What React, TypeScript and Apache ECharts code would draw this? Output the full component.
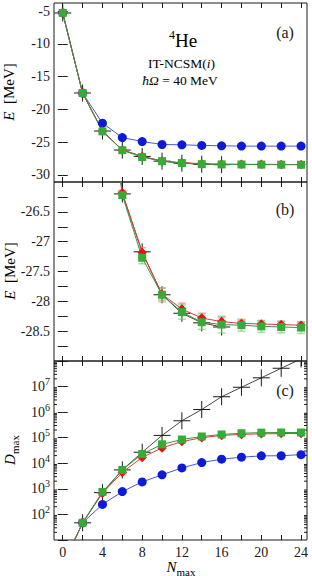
import React, { useEffect, useRef } from "react";
import * as echarts from "echarts";

const X = [0, 2, 4, 6, 8, 10, 12, 14, 16, 18, 20, 22, 24];
const X_TICKS = [0, 2, 4, 6, 8, 10, 12, 14, 16, 18, 20, 22, 24];
const X_LABELS = [0, 4, 8, 12, 16, 20, 24];
const Y_TICKS_A = [-30, -25, -20, -15, -10, -5];
const Y_TICKS_B = [-28.75, -28.5, -28.25, -28, -27.75, -27.5, -27.25, -27, -26.75, -26.5, -26.25];
const Y_LABELS_B = [-28.5, -28, -27.5, -27, -26.5];

// energies (MeV)
const E_CROSS = [-5.3, -17.5, -23.3, -26.2, -27.17, -27.89, -28.2, -28.36, -28.43];
const E_BLUE = [-5.3, -17.5, -22.1, -24.3, -24.9, -25.35, -25.4, -25.5, -25.55, -25.6, -25.6, -25.6, -25.6];
const E_RED = [-5.3, -17.5, -23.3, -26.18, -27.18, -27.88, -28.13, -28.28, -28.34, -28.37, -28.38, -28.39, -28.4];
const E_GREEN = [-5.3, -17.5, -23.35, -26.22, -27.27, -27.89, -28.18, -28.35, -28.39, -28.4, -28.42, -28.43, -28.44];
const ERR_RED = [0, 0, 0, 0.04, 0.08, 0.1, 0.1, 0.08, 0.07, 0.05, 0.05, 0.05, 0.05];
const ERR_GREEN = [0, 0, 0, 0.05, 0.1, 0.12, 0.12, 0.12, 0.14, 0.1, 0.1, 0.1, 0.1];

// dimensions
const D_CROSS = [1, 47, 710, 5500, 27000, 123000, 460000, 1270000, 4000000, 9400000, 22000000, 52000000, 120000000];
const D_BLUE = [1, 47, 247, 780, 1870, 3550, 6600, 10700, 14500, 17300, 19500, 19700, 21800];
const D_RED = [1, 47, 680, 4400, 17000, 40000, 71000, 100000, 123000, 135000, 142000, 145000, 147000];
const D_GREEN = [1, 47, 760, 5500, 23000, 55000, 85000, 112000, 134000, 150000, 158000, 160000, 160000];

const MINOR_LOG: number[] = [];
for (let n = 1; n <= 7; n++) for (let k = 2; k <= 9; k++) MINOR_LOG.push(k * Math.pow(10, n));

const FONT = "'Liberation Serif', serif";
const INK = "#1a1a1a";
const BLUE = "#0d1ad6";
const BLUE_LINE = "#4a55e8";
const RED = "#e01515";
const RED_LINE = "#e03a3a";
const GREEN = "#36ab36";
const GREEN_LINE = "#3c963c";

const GRIDS = [
  { left: 54, top: 3, width: 253, height: 179 },
  { left: 54, top: 182, width: 253, height: 179 },
  { left: 54, top: 361, width: 253, height: 179 },
];

const pairs = (ys: number[]) => ys.map((y, i) => [X[i], y]);

function crossItem(params: any, api: any) {
  const p = api.coord([api.value(0), api.value(1)]);
  const h = 8.5;
  return {
    type: "group",
    children: [
      { type: "line", shape: { x1: p[0] - h, y1: p[1], x2: p[0] + h, y2: p[1] }, style: { stroke: INK, lineWidth: 1 } },
      { type: "line", shape: { x1: p[0], y1: p[1] - h, x2: p[0], y2: p[1] + h }, style: { stroke: INK, lineWidth: 1 } },
    ],
  };
}

function errItem(color: string) {
  return (params: any, api: any) => {
    const x = api.value(0), y = api.value(1), e = api.value(2);
    const t = api.coord([x, y + e]);
    const b = api.coord([x, y - e]);
    const c = 4;
    const st = { stroke: color, lineWidth: 1.5 };
    return {
      type: "group",
      children: [
        { type: "line", shape: { x1: t[0], y1: t[1], x2: b[0], y2: b[1] }, style: st },
        { type: "line", shape: { x1: t[0] - c, y1: t[1], x2: t[0] + c, y2: t[1] }, style: st },
        { type: "line", shape: { x1: b[0] - c, y1: b[1], x2: b[0] + c, y2: b[1] }, style: st },
      ],
    };
  };
}

function minorLogItem(params: any, api: any) {
  const cs = params.coordSys;
  const p = api.coord([api.value(0), api.value(1)]);
  const L = 3;
  const st = { stroke: INK, lineWidth: 1 };
  return {
    type: "group",
    children: [
      { type: "line", shape: { x1: cs.x, y1: p[1], x2: cs.x + L, y2: p[1] }, style: st },
      { type: "line", shape: { x1: cs.x + cs.width - L, y1: p[1], x2: cs.x + cs.width, y2: p[1] }, style: st },
    ],
  };
}

const tickStyle = { inside: true, length: 5, lineStyle: { color: INK, width: 1 } };
const labelBase = { fontFamily: FONT, fontSize: 14, color: INK };

function buildOption() {
  const xAxis: any[] = [];
  const yAxis: any[] = [];
  for (let g = 0; g < 3; g++) {
    for (const pos of ["bottom", "top"]) {
      xAxis.push({
        type: "value",
        gridIndex: g,
        position: pos,
        min: -0.88,
        max: 24.6,
        axisLine: { show: false },
        splitLine: { show: false },
        axisTick: { ...tickStyle, customValues: X_TICKS },
        axisLabel: {
          ...labelBase,
          show: g === 2 && pos === "bottom",
          customValues: X_LABELS,
          margin: 5,
        },
      });
    }
  }
  for (const pos of ["left", "right"]) {
    yAxis.push({
      type: "value",
      gridIndex: 0,
      position: pos,
      min: -31.07,
      max: -3.78,
      axisLine: { show: false },
      splitLine: { show: false },
      axisTick: { ...tickStyle, customValues: Y_TICKS_A },
      axisLabel: { ...labelBase, show: pos === "left", customValues: Y_TICKS_A, margin: 4 },
    });
  }
  for (const pos of ["left", "right"]) {
    yAxis.push({
      type: "value",
      gridIndex: 1,
      position: pos,
      min: -29,
      max: -26,
      axisLine: { show: false },
      splitLine: { show: false },
      axisTick: { ...tickStyle, customValues: Y_TICKS_B },
      axisLabel: { ...labelBase, show: pos === "left", customValues: Y_LABELS_B, margin: 4 },
    });
  }
  for (const pos of ["left", "right"]) {
    yAxis.push({
      type: "log",
      logBase: 10,
      gridIndex: 2,
      position: pos,
      min: 10,
      max: 1e8,
      splitNumber: 7,
      axisLine: { show: false },
      splitLine: { show: false },
      axisTick: { ...tickStyle },
      axisLabel: {
        show: pos === "left",
        margin: 4,
        formatter: (v: number) => {
          const e = Math.round(Math.log10(v));
          if (e <= 1 || e >= 8) return "";
          return "{b|10}{s|" + e + "}";
        },
        rich: {
          b: { fontFamily: FONT, fontSize: 14, color: INK, lineHeight: 20, verticalAlign: "middle" },
          s: { fontFamily: FONT, fontSize: 10, color: INK, lineHeight: 12, verticalAlign: "top" },
        },
      },
    });
  }

  const series: any[] = [];
  const lineS = (g: number, data: any[], color: string, lineColor: string, symbol: string, size: number) => ({
    type: "line",
    xAxisIndex: 2 * g,
    yAxisIndex: 2 * g,
    data,
    symbol,
    symbolSize: size,
    clip: true,
    lineStyle: { color: lineColor, width: 1 },
    itemStyle: { color },
  });
  const crossS = (g: number, data: any[]) => [
    { type: "line", xAxisIndex: 2 * g, yAxisIndex: 2 * g, data, showSymbol: false, symbol: "none", clip: true, lineStyle: { color: INK, width: 0.8 } },
    { type: "custom", xAxisIndex: 2 * g, yAxisIndex: 2 * g, data, renderItem: crossItem, clip: true, encode: { x: 0, y: 1 } },
  ];
  const errS = (g: number, ys: number[], errs: number[], color: string) => ({
    type: "custom",
    xAxisIndex: 2 * g,
    yAxisIndex: 2 * g,
    data: ys.map((y, i) => [X[i], y, errs[i]]),
    renderItem: errItem(color),
    clip: true,
    encode: { x: 0, y: 1 },
  });

  // panel (a)
  series.push(...crossS(0, pairs(E_CROSS)));
  series.push(lineS(0, pairs(E_BLUE), BLUE, BLUE_LINE, "circle", 9));
  series.push(lineS(0, pairs(E_RED), RED, RED_LINE, "diamond", 9.5));
  series.push(lineS(0, pairs(E_GREEN), GREEN, GREEN_LINE, "rect", 8));
  // panel (b)
  series.push(...crossS(1, pairs(E_CROSS)));
  series.push(lineS(1, pairs(E_BLUE), BLUE, BLUE_LINE, "circle", 9));
  series.push(errS(1, E_RED, ERR_RED, "rgba(235,110,110,0.6)"));
  series.push(lineS(1, pairs(E_RED), RED, RED_LINE, "diamond", 9.5));
  series.push(errS(1, E_GREEN, ERR_GREEN, "rgba(110,200,110,0.6)"));
  series.push(lineS(1, pairs(E_GREEN), GREEN, GREEN_LINE, "rect", 8));
  // panel (c)
  series.push({
    type: "custom",
    xAxisIndex: 4,
    yAxisIndex: 4,
    data: MINOR_LOG.map((v) => [0, v]),
    renderItem: minorLogItem,
    encode: { x: 0, y: 1 },
    silent: true,
  });
  series.push(...crossS(2, pairs(D_CROSS)));
  series.push(lineS(2, pairs(D_BLUE), BLUE, BLUE_LINE, "circle", 9));
  series.push(lineS(2, pairs(D_RED), RED, RED_LINE, "diamond", 9.5));
  series.push(lineS(2, pairs(D_GREEN), GREEN, GREEN_LINE, "rect", 8));

  const rm = { fontFamily: FONT, fontSize: 13.5, color: INK };
  const it = { fontFamily: FONT, fontSize: 13.5, color: INK, fontStyle: "italic" };
  const nameRich = {
    i: { fontFamily: FONT, fontSize: 15, color: INK, fontStyle: "italic", lineHeight: 20, verticalAlign: "middle" },
    r: { fontFamily: FONT, fontSize: 15, color: INK, lineHeight: 20, verticalAlign: "middle" },
    sub: { fontFamily: FONT, fontSize: 11, color: INK, lineHeight: 11, verticalAlign: "bottom" },
  };
  const txt = (x: number, y: number, text: string, rich: any, rotation = 0) => ({
    type: "text",
    x,
    y,
    rotation,
    style: { text, rich, align: "center", verticalAlign: "middle" },
  });
  const plain = (x: number, y: number, text: string, size: number) => ({
    type: "text",
    x,
    y,
    style: { text, fontFamily: FONT, fontSize: size, fill: INK, align: "center", verticalAlign: "middle" },
  });

  const graphic = [
    txt(183, 40, "{s|4}{m|He}", {
      s: { fontFamily: FONT, fontSize: 12, color: INK, lineHeight: 12, verticalAlign: "top" },
      m: { fontFamily: FONT, fontSize: 19, color: INK, lineHeight: 22, verticalAlign: "middle" },
    }),
    txt(181.5, 63, "{r|IT-NCSM(}{i|i}{r|)}", { r: rm, i: it }),
    txt(180, 80, "{i|ħΩ}{r| = 40 MeV}", { r: rm, i: it }),
    plain(285, 32, "(a)", 16),
    plain(285, 209, "(b)", 16),
    plain(285, 390, "(c)", 16),
    txt(9, 92, "{i|E}{r|  [MeV]}", nameRich, Math.PI / 2),
    txt(10, 271, "{i|E}{r|  [MeV]}", nameRich, Math.PI / 2),
    txt(10, 450, "{i|D}{sub|max}", nameRich, Math.PI / 2),
    txt(181, 567, "{i|N}{sub|max}", nameRich),
  ];

  return {
    animation: false,
    backgroundColor: "#ffffff",
    grid: GRIDS.map((g) => ({ ...g, show: true, borderColor: INK, borderWidth: 1, backgroundColor: "transparent" })),
    xAxis,
    yAxis,
    series,
    graphic,
  };
}

export default function App() {
  const ref = useRef<HTMLDivElement>(null);
  useEffect(() => {
    document.body.style.margin = "0";
    const chart = echarts.init(ref.current!, null, { renderer: "svg" });
    chart.setOption(buildOption() as any);
    return () => chart.dispose();
  }, []);
  return <div ref={ref} style={{ width: 312, height: 576 }} />;
}
